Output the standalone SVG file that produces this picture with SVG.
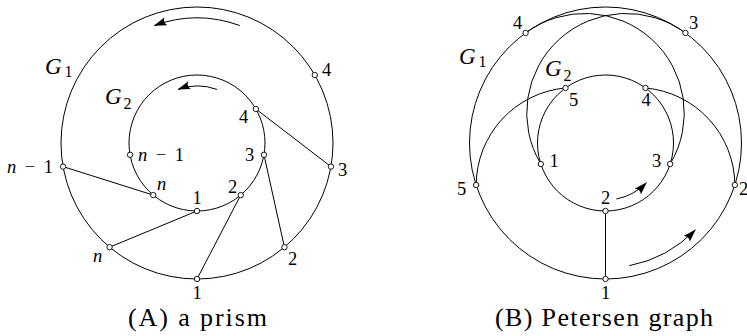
<svg xmlns="http://www.w3.org/2000/svg" width="747" height="336" viewBox="0 0 747 336">
<defs>
<style>
.ln{fill:none;stroke:#000;stroke-width:1}
.arr{fill:none;stroke:#000;stroke-width:1;marker-end:url(#ah)}
.nd{fill:#fff;stroke:#000;stroke-width:0.9}
.lb{font-size:18.5px}
.it{font-style:italic}
.g{font-size:23px;font-style:italic}
.sub{font-size:16px;font-style:normal}
.cap{font-size:26px}
</style>
<marker id="ah" markerUnits="userSpaceOnUse" viewBox="0 0 13 9" markerWidth="13" markerHeight="9" refX="12.5" refY="4.5" orient="auto">
<path d="M0,0.3 L13,4.5 L0,8.7 Q3.8,4.5 0,0.3 Z" fill="#000"/>
</marker>
</defs>
<rect width="747" height="336" fill="#fff"/>

<g id="connectors">
<circle class="ln" cx="197" cy="143" r="136"/>
<circle class="ln" cx="197" cy="143" r="68"/>
<line class="ln" x1="63.07" y1="166.61" x2="153.29" y2="195.09"/>
<line class="ln" x1="109.58" y1="247.18" x2="197" y2="211"/>
<line class="ln" x1="197" y1="279" x2="240.71" y2="195.09"/>
<line class="ln" x1="284.42" y1="247.18" x2="263.97" y2="154.81"/>
<line class="ln" x1="330.93" y1="166.61" x2="255.89" y2="109"/>
<path class="arr" d="M239.75,25.54 A125,125 0 0 0 154.25,25.54"/>
<path class="arr" d="M217,89.44 A57,57 0 0 0 178,89.44"/>
<circle class="ln" cx="605.5" cy="143" r="136"/>
<circle class="ln" cx="605.5" cy="143" r="68"/>
<line class="ln" x1="605.5" y1="279" x2="605.5" y2="211"/>
<path class="ln" d="M476.15,185.02 A98,98 0 0 1 565.53,87.99"/>
<path class="ln" d="M734.85,185.02 A98,98 0 0 0 645.47,87.99"/>
<path class="ln" d="M525.56,32.97 A99.5,99.5 0 0 1 670.17,164.01"/>
<path class="ln" d="M685.44,32.97 A99.5,99.5 0 0 0 540.83,164.01"/>
<path class="arr" d="M629.35,265.7 A125,125 0 0 0 695.4,229.8"/>
<path class="arr" d="M616.4,199 A57,57 0 0 0 646.5,182.6"/>
</g>

<g font-family="Liberation Serif, Times New Roman, serif" fill="#000">
<g id="A-out-1"><circle class="nd" cx="197" cy="279" r="2.7"/><text class="lb" x="192.5" y="299">1</text></g>
<g id="A-out-2"><circle class="nd" cx="284.42" cy="247.18" r="2.7"/><text class="lb" x="288" y="265">2</text></g>
<g id="A-out-3"><circle class="nd" cx="330.93" cy="166.61" r="2.7"/><text class="lb" x="338" y="175.5">3</text></g>
<g id="A-out-4"><circle class="nd" cx="314.78" cy="75" r="2.7"/><text class="lb" x="322" y="75.5">4</text></g>
<g id="A-out-n"><circle class="nd" cx="109.58" cy="247.18" r="2.7"/><text class="lb it" x="93" y="262">n</text></g>
<g id="A-out-n1"><circle class="nd" cx="63.07" cy="166.61" r="2.7"/><text class="lb" x="7" y="172.7" textLength="46" lengthAdjust="spacing"><tspan class="it">n</tspan> − 1</text></g>
<g id="A-in-1"><circle class="nd" cx="197" cy="211" r="2.7"/><text class="lb" x="192.5" y="204">1</text></g>
<g id="A-in-2"><circle class="nd" cx="240.71" cy="195.09" r="2.7"/><text class="lb" x="228" y="193">2</text></g>
<g id="A-in-3"><circle class="nd" cx="263.97" cy="154.81" r="2.7"/><text class="lb" x="245" y="160.5">3</text></g>
<g id="A-in-4"><circle class="nd" cx="255.89" cy="109" r="2.7"/><text class="lb" x="239" y="122.7">4</text></g>
<g id="A-in-n"><circle class="nd" cx="153.29" cy="195.09" r="2.7"/><text class="lb it" x="157" y="190">n</text></g>
<g id="A-in-n1"><circle class="nd" cx="130.03" cy="154.81" r="2.7"/><text class="lb" x="138" y="160.5" textLength="46" lengthAdjust="spacing"><tspan class="it">n</tspan> − 1</text></g>
<g id="A-G1"><text class="g" x="45" y="74">G<tspan class="sub" x="64.5" y="77">1</tspan></text></g>
<g id="A-G2"><text class="g" x="105" y="104">G<tspan class="sub" x="123.5" y="109">2</tspan></text></g>
<g id="A-caption"><text class="cap" x="197.5" y="326" text-anchor="middle" textLength="139" lengthAdjust="spacing">(A) a prism</text></g>

<g id="B-out-1"><circle class="nd" cx="605.5" cy="279" r="2.7"/><text class="lb" x="601" y="298.5">1</text></g>
<g id="B-out-2"><circle class="nd" cx="734.85" cy="185.02" r="2.7"/><text class="lb" x="739" y="195">2</text></g>
<g id="B-out-3"><circle class="nd" cx="685.44" cy="32.97" r="2.7"/><text class="lb" x="689" y="28.5">3</text></g>
<g id="B-out-4"><circle class="nd" cx="525.56" cy="32.97" r="2.7"/><text class="lb" x="513" y="28.5">4</text></g>
<g id="B-out-5"><circle class="nd" cx="476.15" cy="185.02" r="2.7"/><text class="lb" x="457" y="195">5</text></g>
<g id="B-in-1"><circle class="nd" cx="540.83" cy="164.01" r="2.7"/><text class="lb" x="549.5" y="167">1</text></g>
<g id="B-in-2"><circle class="nd" cx="605.5" cy="211" r="2.7"/><text class="lb" x="601" y="204">2</text></g>
<g id="B-in-3"><circle class="nd" cx="670.17" cy="164.01" r="2.7"/><text class="lb" x="652" y="167">3</text></g>
<g id="B-in-4"><circle class="nd" cx="645.47" cy="87.99" r="2.7"/><text class="lb" x="641.5" y="105.7">4</text></g>
<g id="B-in-5"><circle class="nd" cx="565.53" cy="87.99" r="2.7"/><text class="lb" x="569" y="105.7">5</text></g>
<g id="B-G1"><text class="g" x="459" y="64">G<tspan class="sub" x="478.5" y="67">1</tspan></text></g>
<g id="B-G2"><text class="g" x="545" y="76">G<tspan class="sub" x="563.5" y="81">2</tspan></text></g>
<g id="B-caption"><text class="cap" x="604" y="326" text-anchor="middle" textLength="218" lengthAdjust="spacing">(B) Petersen graph</text></g>
</g>
</svg>
